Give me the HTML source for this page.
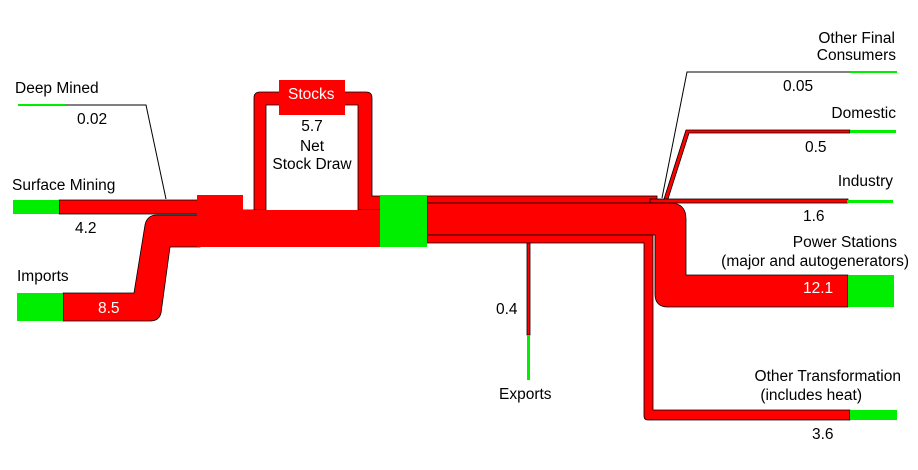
<!DOCTYPE html>
<html><head><meta charset="utf-8"><style>
html,body{margin:0;padding:0;background:#fff;}
svg{display:block;font-family:"Liberation Sans",sans-serif;font-size:15.5px;}
</style></head><body>
<svg width="918" height="470" viewBox="0 0 918 470" xmlns="http://www.w3.org/2000/svg">
<g stroke="#000" stroke-width="1" fill="none">
<polyline points="65,105 146,105 166,199"/>
<polyline points="662,198 687,72 850,72"/>
</g>
<g fill="#f00" stroke="#000" stroke-width="0.8">
<polygon points="664,199 686,130 850,130 850,133 689,133 668,199"/>
<polygon points="59,200 198,200 198,214 59,214"/>
<path d="M63,293 L134,293 L145,225 Q147,215 157,215 L200,215 L200,247 L170,247 L161,313 Q159,321 150,321 L63,321 Z"/>
<path d="M243,210 L254,210 L254,98 Q254,92 260,92 L366,92 Q372,92 372,98 L372,196 L383,196 L383,210 L358,210 L358,105 L266,105 L266,210 Z"/>
<rect x="427" y="196" width="230" height="7"/>
<rect x="650" y="199" width="198" height="4"/>
<path d="M427,203 L670,203 Q686,203 686,219 L686,275 L848,275 L848,307 L668,307 Q655,307 655,294 L655,235 L427,235 Z"/>
<path d="M427,235 L653,235 L653,410 L850,410 L850,420 L648,420 Q644,420 644,416 L644,243 L427,243 Z"/>
<rect x="527" y="243" width="3" height="92"/>
</g>
<g fill="#f00">
<rect x="197" y="195" width="46" height="52"/>
<rect x="243" y="210" width="140" height="37"/>
<rect x="279" y="80" width="66" height="35"/>
</g>
<g fill="#00ee00">
<rect x="18" y="104" width="47" height="2"/>
<rect x="13" y="200" width="46" height="14"/>
<rect x="17" y="293" width="46" height="28"/>
<rect x="380" y="195" width="47" height="52"/>
<rect x="850" y="71" width="47" height="2"/>
<rect x="850" y="130" width="46" height="3"/>
<rect x="847" y="200" width="46" height="3"/>
<rect x="848" y="275" width="46" height="32"/>
<rect x="850" y="410" width="47" height="10"/>
<rect x="527" y="335" width="3" height="45"/>
</g>
<g fill="#000">
<text x="15" y="93">Deep Mined</text>
<text x="77" y="124">0.02</text>
<text x="12" y="190">Surface Mining</text>
<text x="75" y="233">4.2</text>
<text x="17" y="281">Imports</text>
<text x="312" y="131" text-anchor="middle">5.7</text>
<text x="312" y="151" text-anchor="middle">Net</text>
<text x="312" y="169" text-anchor="middle">Stock Draw</text>
<text x="895" y="43" text-anchor="end">Other Final</text>
<text x="896" y="60" text-anchor="end">Consumers</text>
<text x="783" y="91">0.05</text>
<text x="896" y="118" text-anchor="end">Domestic</text>
<text x="805" y="152">0.5</text>
<text x="893" y="186" text-anchor="end">Industry</text>
<text x="803" y="221">1.6</text>
<text x="897" y="247" text-anchor="end">Power Stations</text>
<text x="909" y="266" text-anchor="end">(major and autogenerators)</text>
<text x="901" y="381" text-anchor="end">Other Transformation</text>
<text x="862" y="400" text-anchor="end">(includes heat)</text>
<text x="812" y="439">3.6</text>
<text x="496" y="314">0.4</text>
<text x="499" y="399">Exports</text>
</g>
<g fill="#fff">
<text x="288" y="99">Stocks</text>
<text x="98" y="313">8.5</text>
<text x="803" y="293">12.1</text>
</g>
</svg>
</body></html>
